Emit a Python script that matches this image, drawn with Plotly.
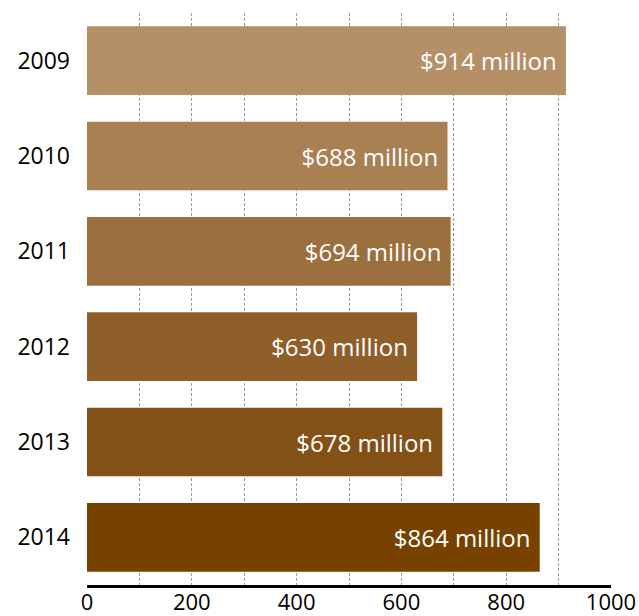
import plotly.graph_objects as go

years = ["2009", "2010", "2011", "2012", "2013", "2014"]
values = [914, 688, 694, 630, 678, 864]
labels = ["$914 million", "$688 million", "$694 million", "$630 million", "$678 million", "$864 million"]
colors = ["#B58F66", "#A98052", "#9C6F3E", "#8E5F29", "#835015", "#774200"]
tick_vals = [0, 100, 200, 300, 400, 500, 600, 700, 800, 900, 1000]
tick_text = ["0", "", "200", "", "400", "", "600", "", "800", "", "1000"]

fig = go.Figure(go.Bar(
    x=values, y=years, orientation="h",
    marker=dict(color=colors, line=dict(width=0)),
    text=[t + "\u00a0" for t in labels], textposition="inside", insidetextanchor="end",
    textfont=dict(color="white", size=24, family="Open Sans"),
    width=0.72, cliponaxis=False,
))

fig.update_layout(
    width=639, height=616,
    margin=dict(l=87, r=28, t=13, b=31),
    plot_bgcolor="white", paper_bgcolor="white",
    showlegend=False,
    font=dict(family="Open Sans", size=22, color="black"),
    uniformtext=dict(mode="show", minsize=24),
)
fig.update_xaxes(
    range=[0, 1000], tickvals=tick_vals, ticktext=tick_text,
    showgrid=True, gridcolor="#999999", griddash="3px,2px", gridwidth=1,
    showline=True, linecolor="black", linewidth=3,
    zeroline=False, ticks="", tickfont=dict(size=22), automargin=False,
    ticklabelstandoff=-4,
)
fig.update_yaxes(
    categoryorder="array", categoryarray=years, autorange="reversed",
    showgrid=False, zeroline=False, showline=False, ticks="",
    ticklabelstandoff=16, tickfont=dict(size=23), automargin=False,
)

fig.write_html("out.html")
